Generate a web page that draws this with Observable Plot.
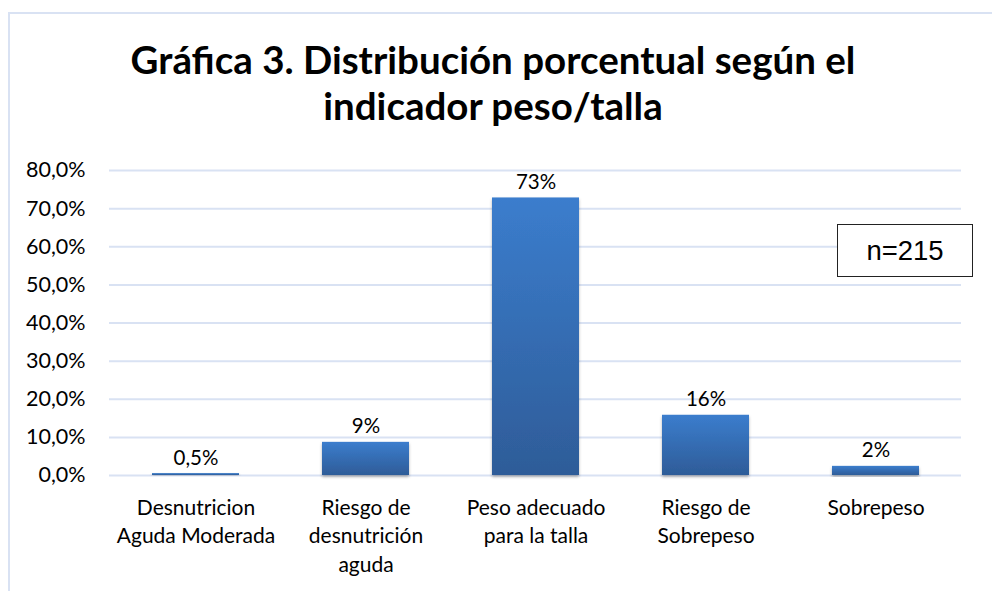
<!DOCTYPE html>
<html>
<head>
<meta charset="utf-8">
<script src="https://cdn.jsdelivr.net/npm/d3@7"></script>
<script src="https://cdn.jsdelivr.net/npm/@observablehq/plot@0.6"></script>
<style>
  html, body { margin: 0; padding: 0; background: #fff; }
  #wrap { position: relative; width: 992px; height: 591px; overflow: hidden; font-family: Lato, "Open Sans", sans-serif; }
  #frame { position: absolute; left: 8px; top: 12px; width: 1200px; height: 800px; border-left: 2px solid #d9e2f3; border-top: 2px solid #d9e2f3; }
  #title { position: absolute; left: 0; width: 986px; top: 36px; text-align: center; font-weight: bold; font-size: 38.5px; line-height: 46px; color: #000; }
  #chart { position: absolute; left: 0; top: 150px; }
  #nbox { position: absolute; left: 837px; top: 224px; width: 134px; height: 51px; border: 1px solid #222; background: #fff;
          font-family: "Liberation Sans", Arial, sans-serif; font-size: 27.5px; display: flex; align-items: center; justify-content: center; }
</style>
</head>
<body>
<div id="wrap">
  <div id="frame"></div>
  <div id="title">Gráfica 3. Distribución porcentual según el<br>indicador peso/talla</div>
  <div id="chart"></div>
  <div id="nbox">n=215</div>
</div>
<script>
const categories = ["Desnutricion Aguda Moderada", "Riesgo de desnutrición aguda", "Peso adecuado para la talla", "Riesgo de Sobrepeso", "Sobrepeso"];
const tickLabels = ["Desnutricion\nAguda Moderada", "Riesgo de\ndesnutrición\naguda", "Peso adecuado\npara la talla", "Riesgo de\nSobrepeso", "Sobrepeso"];
const values = [0.5, 8.7, 72.8, 15.8, 2.4];
const valueLabels = ["0,5%", "9%", "73%", "16%", "2%"];
const yTicks = [0, 10, 20, 30, 40, 50, 60, 70, 80];

const data = categories.map((c, i) => ({category: c, value: values[i], label: valueLabels[i], tick: tickLabels[i]}));
const tickMap = new Map(data.map(d => [d.category, d.tick]));

const defs = () => {
  const d = d3.create("svg:defs");
  const g = d.append("linearGradient").attr("id", "barGrad").attr("x1", 0).attr("y1", 0).attr("x2", 0).attr("y2", 1);
  g.append("stop").attr("offset", "0%").attr("stop-color", "#3b7dcd");
  g.append("stop").attr("offset", "100%").attr("stop-color", "#2e5c98");
  const f = d.append("filter").attr("id", "shadow").attr("x", "-10%").attr("y", "-10%").attr("width", "120%").attr("height", "130%");
  f.append("feDropShadow").attr("dx", 0).attr("dy", 2).attr("stdDeviation", 1.5).attr("flood-color", "#000").attr("flood-opacity", 0.3);
  return d.node();
};

const chart = Plot.plot({
  width: 992,
  height: 441,
  marginTop: 20,
  marginBottom: 116,
  marginLeft: 109,
  marginRight: 31,
  style: {fontFamily: "Lato, 'Open Sans', sans-serif", fontSize: "21px", color: "#000", background: "transparent"},
  x: {domain: categories, paddingInner: 0.49, paddingOuter: 0.245, label: null},
  y: {domain: [0, 80], label: null},
  marks: [
    defs,
    Plot.gridY(yTicks, {stroke: "#d9e2f3", strokeOpacity: 1, strokeWidth: 2}),
    Plot.barY(data, {x: "category", y: "value", fill: "url(#barGrad)"}),
    Plot.text(data, {x: "category", y: "value", text: "label", dy: -9, lineAnchor: "bottom", fontSize: 20.5, fill: "#000"}),
    Plot.axisY({ticks: yTicks, tickSize: 0, tickPadding: 24, tickFormat: d => d.toFixed(1).replace(".", ",") + "%", fontSize: 21.5, label: null}),
    Plot.axisX({tickSize: 0, tickPadding: 19, tickFormat: d => tickMap.get(d), lineHeight: 1.36, fontSize: 21, label: null})
  ]
});
chart.querySelectorAll("rect").forEach(r => r.setAttribute("filter", "url(#shadow)"));
document.getElementById("chart").appendChild(chart);
</script>
</body>
</html>
